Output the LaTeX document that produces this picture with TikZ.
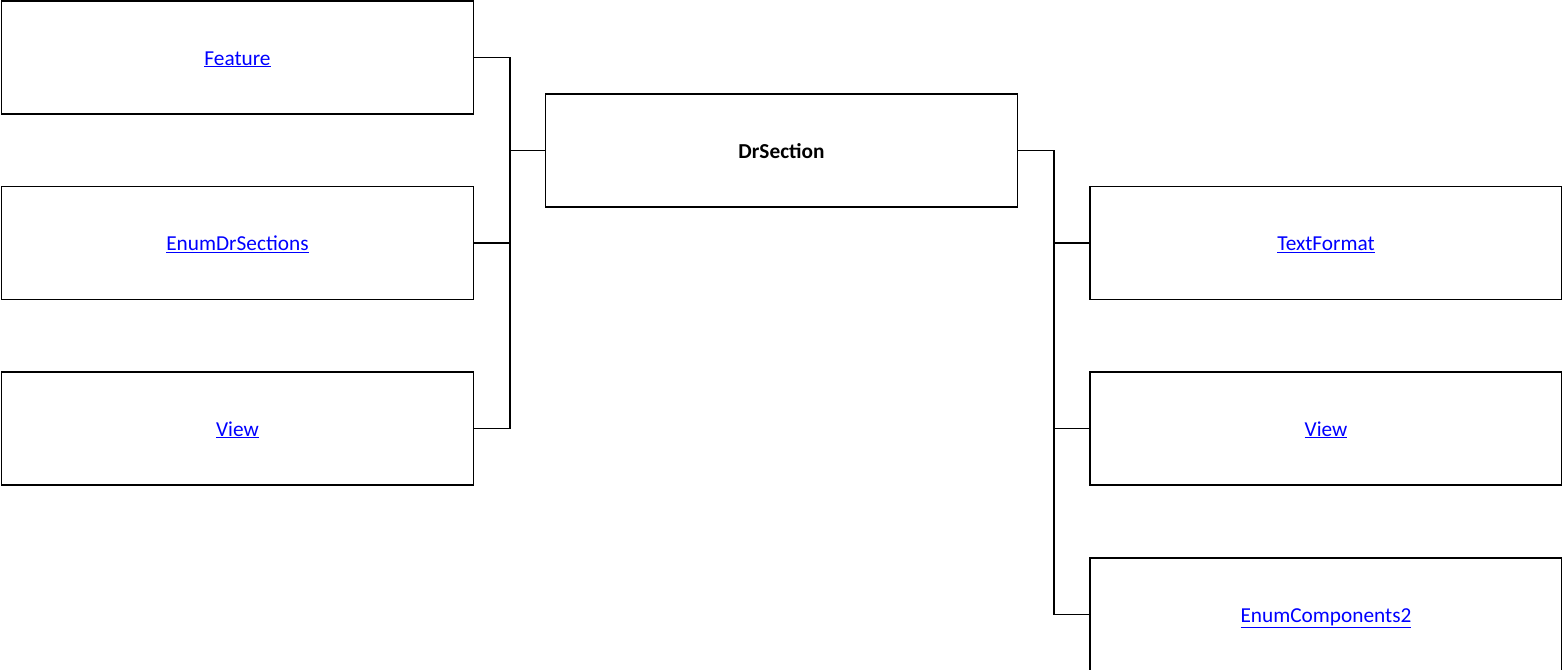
\documentclass[tikz,border=0pt]{standalone}
\usepackage{fontspec}
\setmainfont{Carlito}
\definecolor{linkblue}{RGB}{0,0,255}
\begin{document}
\begin{tikzpicture}[x=1pt,y=-1pt,
  box/.style={draw=black,line width=1.2pt,minimum width=472pt,minimum height=113pt,inner sep=0pt,text height=16pt,text depth=1pt,font=\fontsize{21.3}{25}\selectfont},
  link/.style={box,text=linkblue},
  conn/.style={draw=black,line width=1.7pt}]
\useasboundingbox (0,0) rectangle (1562,669);
\clip (0,0) rectangle (1562,669);
\node[link] (feat) at (237.5,57.5) {\underline{Feature}};
\node[link] (enumdr) at (237.5,243) {\underline{EnumDrSections}};
\node[link] (viewl) at (237.5,428.5) {\underline{View}};
\node[box] (dr) at (781.5,150.5) {\textbf{DrSection}};
\node[link] (tf) at (1326,243) {\underline{TextFormat}};
\node[link] (viewr) at (1326,428.5) {\underline{View}};
\node[link] (ec) at (1326,614.5) {\underline{EnumComponents2}};
\coordinate (lj) at (510,150.5);
\coordinate (rj) at (1054,150.5);
\draw[conn] (feat.east) -- (feat.east -| lj) -- (viewl.east -| lj) -- (viewl.east);
\draw[conn] (enumdr.east) -- (enumdr.east -| lj);
\draw[conn] (lj) -- (dr.west);
\draw[conn] (dr.east) -- (rj) -- (rj |- ec.west) -- (ec.west);
\draw[conn] (tf.west) -- (tf.west -| rj);
\draw[conn] (viewr.west) -- (viewr.west -| rj);
\end{tikzpicture}
\end{document}
